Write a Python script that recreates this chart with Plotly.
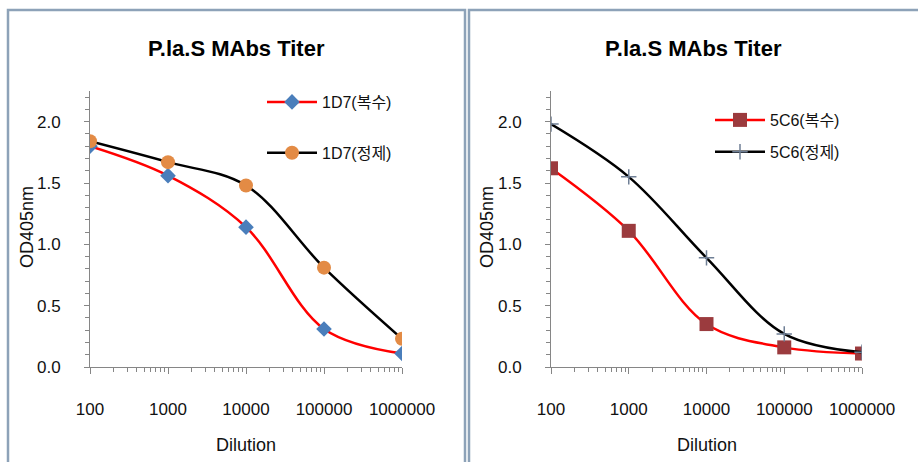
import plotly.graph_objects as go

# ---- data ----
dilution = [100, 1000, 10000, 100000, 1000000]
tick_vals = [100, 1000, 10000, 100000, 1000000]
tick_text = ["100", "1000", "10000", "100000", "1000000"]

od_1d7_ascites = [1.80, 1.56, 1.14, 0.31, 0.11]
od_1d7_purified = [1.84, 1.67, 1.48, 0.81, 0.23]
od_5c6_ascites = [1.62, 1.11, 0.35, 0.16, 0.11]
od_5c6_purified = [1.98, 1.55, 0.89, 0.27, 0.12]

names_left = ["1D7(복수)", "1D7(정제)"]
names_right = ["5C6(복수)", "5C6(정제)"]
chart_title = "P.la.S MAbs Titer"
x_title = "Dilution"
y_title = "OD405nm"

W, H = 918, 462
FONT = "Liberation Sans, Noto Sans CJK KR, sans-serif"
AXIS_GRAY = "#868686"

fig = go.Figure()

# left chart
fig.add_trace(go.Scatter(
    x=dilution, y=od_1d7_ascites, name=names_left[0], mode="lines+markers",
    line=dict(color="#FF0000", width=2.5, shape="spline", smoothing=1.0),
    marker=dict(symbol="diamond", size=12, color="#4A7EBB"),
    xaxis="x", yaxis="y", legend="legend", legendgroup="a"))
fig.add_trace(go.Scatter(
    x=dilution, y=od_1d7_purified, name=names_left[1], mode="lines+markers",
    line=dict(color="#000000", width=2.5, shape="spline", smoothing=1.0),
    marker=dict(symbol="circle", size=14, color="#E38B45"),
    xaxis="x", yaxis="y", legend="legend", legendgroup="b"))

# right chart
fig.add_trace(go.Scatter(
    x=dilution, y=od_5c6_ascites, name=names_right[0], mode="lines+markers",
    line=dict(color="#FF0000", width=2.5, shape="spline", smoothing=1.0),
    marker=dict(symbol="square", size=14, color="#9B3B3E"),
    xaxis="x2", yaxis="y2", legend="legend2", legendgroup="c"))
fig.add_trace(go.Scatter(
    x=dilution, y=od_5c6_purified, name=names_right[1], mode="lines+markers",
    line=dict(color="#000000", width=2.5, shape="spline", smoothing=1.0),
    marker=dict(symbol="cross-thin", size=11, color="#6F7F95",
                line=dict(color="#6F7F95", width=1.5)),
    xaxis="x2", yaxis="y2", legend="legend2", legendgroup="d"))

ydom = [1 - 367 / H, 1 - 91 / H]

xcommon = dict(
    type="log", range=[2, 6], tickmode="array", tickvals=tick_vals, ticktext=tick_text,
    showline=True, linecolor=AXIS_GRAY, linewidth=1, showgrid=False, zeroline=False,
    ticks="outside", ticklen=6, tickcolor=AXIS_GRAY, ticklabelstandoff=21,
    tickfont=dict(family=FONT, size=17, color="#111111"),
    minor=dict(ticks="outside", ticklen=4, tickcolor=AXIS_GRAY, dtick="D1", showgrid=False),
    automargin=False,
)
ycommon = dict(
    range=[0, 2.25], dtick=0.5, tick0=0, tickformat=".1f",
    showline=True, linecolor=AXIS_GRAY, linewidth=1, showgrid=False, zeroline=False,
    ticks="outside", ticklen=5, tickcolor=AXIS_GRAY, ticklabelstandoff=20,
    tickfont=dict(family=FONT, size=17, color="#111111"),
    minor=dict(ticks="outside", ticklen=4, tickcolor=AXIS_GRAY, dtick=0.1, showgrid=False),
    domain=ydom, automargin=False,
)

fig.update_layout(
    width=W, height=H, margin=dict(l=0, r=0, t=0, b=0, autoexpand=False),
    paper_bgcolor="white", plot_bgcolor="white",
    font=dict(family=FONT, size=16, color="#111111"),
    xaxis=dict(domain=[90 / W, 402 / W], anchor="y", **xcommon),
    yaxis=dict(anchor="x", **ycommon),
    xaxis2=dict(domain=[551 / W, 862 / W], anchor="y2", **xcommon),
    yaxis2=dict(anchor="x2", **ycommon),
    legend=dict(x=262 / W, y=1 - 85 / H, xanchor="left", yanchor="top",
                bgcolor="rgba(0,0,0,0)", traceorder="grouped", tracegroupgap=27,
                itemwidth=50, font=dict(family=FONT, size=16, color="#111111")),
    legend2=dict(x=710 / W, y=1 - 103 / H, xanchor="left", yanchor="top",
                 bgcolor="rgba(0,0,0,0)", traceorder="grouped", tracegroupgap=8,
                 itemwidth=50, font=dict(family=FONT, size=16, color="#111111")),
    showlegend=True,
)

# panel borders
border = dict(color="#8DA2B8", width=2.5)
fig.add_shape(type="rect", xref="paper", yref="paper",
              x0=8 / W, x1=465 / W, y0=-0.05, y1=1 - 10 / H, line=border, layer="below")
fig.add_shape(type="rect", xref="paper", yref="paper",
              x0=469 / W, x1=1.05, y0=-0.05, y1=1 - 10 / H, line=border, layer="below")

# titles and axis titles as annotations
for cx, ylab_x, px0, px1 in [(236, 27, 90, 402), (693, 487, 551, 862)]:
    fig.add_annotation(text="<b>" + chart_title + "</b>", xref="paper", yref="paper",
                       x=cx / W, y=1 - 48 / H, showarrow=False, xanchor="center", yanchor="middle",
                       font=dict(family=FONT, size=22, color="#000000"))
    fig.add_annotation(text=x_title, xref="paper", yref="paper",
                       x=((px0 + px1) / 2) / W, y=1 - 445 / H, showarrow=False,
                       xanchor="center", yanchor="middle",
                       font=dict(family=FONT, size=18, color="#111111"))
    fig.add_annotation(text=y_title, xref="paper", yref="paper", textangle=-90,
                       x=ylab_x / W, y=1 - 227 / H, showarrow=False,
                       xanchor="center", yanchor="middle",
                       font=dict(family=FONT, size=18, color="#111111"))

fig.write_html("out.html")
